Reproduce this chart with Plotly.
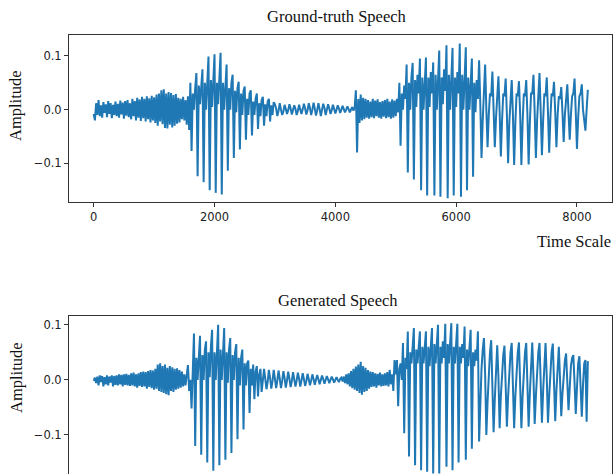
import plotly.graph_objects as go

# Digitised waveforms: one amplitude value every SAMPLE_STEP samples
SAMPLE_STEP = 20

gt_amp = [
    -0.008, -0.02, 0.012, -0.01, 0.018, -0.012, 0.008, -0.015, 0.014, -0.006,
    0.01, -0.014, 0.016, -0.008, 0.012, -0.016, 0.009, -0.01, 0.015, -0.012,
    0.011, -0.015, 0.017, -0.009, 0.013, -0.017, 0.016, -0.011, 0.018, -0.014,
    0.012, -0.018, 0.02, -0.012, 0.016, -0.02, 0.022, -0.015, 0.019, -0.021,
    0.024, -0.016, 0.02, -0.022, 0.025, -0.018, 0.021, -0.024, 0.026, -0.02,
    0.023, -0.025, 0.028, -0.03, 0.03, -0.022, 0.036, -0.027, 0.038, -0.034,
    0.03, -0.035, 0.033, -0.028, 0.031, -0.033, 0.027, -0.03, 0.029, -0.026,
    0.022, -0.024, 0.02, -0.018, 0.024, -0.02, 0.018, -0.028, 0.025, -0.038,
    0.05, -0.077, 0.03, 0.0, 0.04, 0.068, -0.124, 0.045, 0.01, 0.05,
    0.075, -0.135, 0.05, 0.0, 0.06, 0.099, -0.15, 0.055, 0.005, 0.06,
    0.103, -0.155, 0.05, 0.01, 0.065, 0.106, -0.158, 0.05, 0.0, 0.055,
    0.084, -0.114, 0.04, 0.0, 0.05, 0.065, -0.09, 0.035, -0.005, 0.04,
    0.052, -0.074, 0.03, -0.01, 0.035, 0.043, -0.056, 0.02, -0.01, 0.03,
    0.036, -0.048, 0.015, -0.01, 0.02, 0.03, -0.036, 0.012, -0.012, 0.018,
    0.024, -0.03, 0.01, -0.012, 0.015, 0.02, -0.022, 0.008, -0.01, 0.014,
    0.01, 0.002, -0.012, -0.002, 0.012, 0.0, -0.01, -0.003, 0.009, 0.001,
    -0.008, -0.001, 0.01, 0.002, -0.009, 0.0, 0.008, 0.001, -0.01, -0.002,
    0.009, 0.0, -0.008, 0.001, 0.011, 0.002, -0.009, -0.001, 0.012, 0.003,
    -0.01, 0.0, 0.013, 0.002, -0.011, -0.001, 0.012, 0.001, -0.012, 0.0,
    0.011, 0.003, -0.01, 0.0, 0.01, 0.002, -0.008, -0.001, 0.009, 0.001,
    -0.007, 0.0, 0.008, 0.002, -0.006, 0.0, 0.007, 0.001, -0.005, 0.0,
    0.006, 0.001, -0.005, 0.0, 0.005, -0.002, 0.004, 0.036, -0.08, 0.02,
    -0.025, 0.028, -0.02, 0.022, -0.018, 0.02, -0.015, 0.018, -0.017, 0.015,
    -0.014, 0.02, -0.016, 0.017, -0.012, 0.019, -0.015, 0.014, -0.017, 0.016,
    -0.013, 0.018, -0.016, 0.02, -0.014, 0.015, -0.017, 0.019, -0.015, 0.017,
    -0.012, 0.02, -0.005, 0.05, -0.067, 0.03, 0.0, 0.045, 0.02, 0.084,
    -0.117, 0.05, 0.0, 0.06, 0.087, -0.13, 0.055, 0.005, 0.065, 0.03,
    0.095, -0.15, 0.06, 0.0, 0.07, 0.097, -0.16, 0.06, 0.005, 0.07,
    0.03, 0.088, -0.16, 0.065, 0.0, 0.07, 0.11, -0.162, 0.06, 0.01,
    0.075, 0.035, 0.12, -0.165, 0.065, 0.0, 0.07, 0.115, -0.16, 0.06,
    0.005, 0.07, 0.03, 0.123, -0.162, 0.065, 0.0, 0.07, 0.116, -0.15,
    0.06, 0.0, 0.065, 0.095, -0.125, 0.05, -0.005, 0.055, 0.02, 0.092,
    0.01, -0.09, -0.02, 0.035, 0.084, 0.0, -0.07, -0.01, 0.03, 0.025,
    0.071, 0.0, -0.07, -0.015, 0.03, 0.062, -0.005, -0.087, -0.02, 0.03,
    0.025, 0.058, -0.01, -0.1, -0.025, 0.03, 0.055, -0.01, -0.103, -0.025,
    0.03, 0.025, 0.053, -0.01, -0.103, -0.025, 0.03, 0.025, 0.055, -0.01,
    -0.102, -0.025, 0.03, 0.03, 0.065, -0.005, -0.09, -0.02, 0.03, 0.068,
    -0.005, -0.085, -0.02, 0.03, 0.025, 0.06, -0.005, -0.08, -0.015, 0.03,
    0.025, 0.052, -0.005, -0.07, -0.01, 0.025, 0.02, 0.042, -0.005, -0.06,
    -0.01, 0.025, 0.047, -0.005, -0.056, -0.01, 0.025, 0.03, 0.058, -0.005,
    -0.073, -0.015, 0.025, 0.03, 0.047, 0.0, -0.02, -0.039, 0.0, 0.037,
]

gen_amp = [
    -0.002, 0.004, -0.006, 0.006, -0.01, 0.008, -0.004, 0.007, -0.012, 0.005,
    -0.008, 0.008, -0.01, 0.006, -0.005, 0.008, -0.012, 0.007, -0.009, 0.008,
    -0.01, 0.01, -0.008, 0.009, -0.012, 0.01, -0.009, 0.011, -0.01, 0.009,
    -0.011, 0.012, -0.01, 0.013, -0.012, 0.01, -0.014, 0.012, -0.011, 0.014,
    -0.013, 0.015, -0.012, 0.014, -0.016, 0.016, -0.013, 0.018, -0.015, 0.017,
    -0.018, 0.02, -0.016, 0.028, -0.02, 0.03, -0.022, 0.025, -0.024, 0.028,
    -0.026, 0.022, -0.028, 0.025, -0.02, 0.023, -0.022, 0.02, -0.018, 0.021,
    -0.016, 0.018, -0.014, 0.015, -0.012, 0.01, -0.01, 0.015, 0.027, -0.02,
    0.0, -0.052, 0.02, 0.084, -0.12, 0.04, 0.0, 0.05, 0.08, -0.136,
    0.045, 0.0, 0.055, 0.07, -0.15, 0.05, 0.005, 0.06, 0.091, -0.165,
    0.05, 0.0, 0.06, 0.1, -0.155, 0.055, 0.0, 0.06, 0.094, -0.145,
    0.05, -0.005, 0.055, 0.076, -0.133, 0.045, 0.0, 0.05, 0.065, -0.108,
    0.04, -0.01, 0.04, 0.055, -0.09, 0.03, -0.01, 0.03, 0.035, -0.06,
    0.02, -0.01, 0.028, -0.035, 0.015, 0.025, -0.03, 0.01, 0.02, -0.022,
    0.005, 0.02, 0.002, -0.017, -0.003, 0.018, 0.003, -0.016, -0.002, 0.018,
    0.002, -0.015, -0.001, 0.017, 0.002, -0.015, -0.002, 0.016, 0.003, -0.014,
    -0.001, 0.015, 0.002, -0.013, -0.002, 0.014, 0.001, -0.012, -0.001, 0.013,
    0.002, -0.012, -0.001, 0.012, 0.001, -0.011, -0.002, 0.011, 0.001, -0.01,
    -0.001, 0.01, 0.001, -0.009, 0.0, 0.009, 0.001, -0.008, 0.0, 0.008,
    0.001, -0.007, 0.0, 0.007, 0.001, -0.006, 0.0, 0.006, 0.001, -0.005,
    0.0, 0.005, 0.0, -0.004, 0.002, 0.004, -0.003, 0.006, -0.006, 0.01,
    -0.008, 0.012, -0.012, 0.016, -0.015, 0.02, -0.018, 0.024, -0.02, 0.028,
    -0.024, 0.033, -0.027, 0.025, -0.022, 0.022, -0.02, 0.018, -0.016, 0.015,
    -0.013, 0.014, -0.012, 0.012, -0.014, 0.011, -0.01, 0.013, -0.012, 0.01,
    -0.011, 0.012, -0.01, 0.014, -0.012, 0.018, -0.008, 0.01, -0.02, 0.036,
    0.01, 0.036, -0.048, 0.02, 0.03, 0.0, 0.067, -0.097, 0.04, 0.02,
    0.088, -0.139, 0.05, 0.03, 0.06, 0.094, -0.155, 0.055, 0.03, 0.065,
    0.088, -0.164, 0.06, 0.03, 0.07, 0.088, -0.167, 0.06, 0.025, 0.07,
    0.094, -0.17, 0.065, 0.03, 0.07, 0.1, -0.17, 0.06, 0.03, 0.07,
    0.04, 0.102, -0.158, 0.065, 0.03, 0.07, 0.103, -0.164, 0.06, 0.03,
    0.065, 0.102, -0.15, 0.06, 0.03, 0.065, 0.04, 0.097, -0.145, 0.055,
    0.025, 0.06, 0.091, -0.125, 0.05, 0.025, 0.055, 0.035, 0.088, -0.112,
    -0.04, 0.02, 0.055, 0.076, 0.01, -0.1, -0.04, 0.02, 0.05, 0.072,
    0.005, -0.095, -0.035, 0.025, 0.063, 0.005, -0.088, -0.03, 0.02, 0.045,
    0.062, 0.005, -0.085, -0.03, 0.02, 0.05, 0.067, 0.005, -0.088, -0.03,
    0.02, 0.05, 0.068, 0.005, -0.088, -0.03, 0.02, 0.05, 0.067, 0.005,
    -0.085, -0.025, 0.035, 0.068, 0.005, -0.08, -0.03, 0.02, 0.05, 0.067,
    0.005, -0.078, -0.02, 0.035, 0.067, 0.005, -0.078, -0.03, 0.02, 0.05,
    0.066, 0.005, -0.075, -0.02, 0.03, 0.06, 0.0, -0.066, -0.025, 0.015,
    0.035, 0.048, 0.0, -0.055, -0.015, 0.025, 0.04, 0.045, -0.005, -0.062,
    -0.015, 0.03, 0.043, -0.005, -0.067, -0.01, 0.03, 0.036, -0.076, 0.034,
]

x_tick_vals = [0, 2000, 4000, 6000, 8000]
y_tick_vals = [-0.1, 0.0, 0.1]
titles = ["Ground-truth Speech", "Generated Speech"]
y_label = "Amplitude"
x_label = "Time Scale"

gt_idx = [i * SAMPLE_STEP for i in range(len(gt_amp))]
gen_idx = [i * SAMPLE_STEP for i in range(len(gen_amp))]

W, H = 614, 474
def px(x):
    return x / W
def py(y):
    return 1 - y / H

LINE = "#1f77b4"
AX = "#333333"
TICKFONT = dict(family="DejaVu Sans", size=11.5, color="#222222")
SERIF = "Liberation Serif"

fig = go.Figure()
fig.add_trace(go.Scatter(x=gt_idx, y=gt_amp, mode="lines",
                         line=dict(color=LINE, width=2.0), xaxis="x", yaxis="y",
                         showlegend=False, hoverinfo="skip"))
fig.add_trace(go.Scatter(x=gen_idx, y=gen_amp, mode="lines",
                         line=dict(color=LINE, width=2.0), xaxis="x2", yaxis="y2",
                         showlegend=False, hoverinfo="skip"))

xdom = [px(69), px(612)]
xr = [-409, 8580]

fig.update_layout(
    width=W, height=H,
    margin=dict(l=0, r=0, t=0, b=0),
    paper_bgcolor="white", plot_bgcolor="white",
    xaxis=dict(domain=xdom, range=xr, anchor="y", tickvals=x_tick_vals,
               tickformat="d", ticks="outside", ticklen=4, tickcolor=AX,
               showline=True, linecolor=AX, linewidth=1, mirror=True,
               showgrid=False, zeroline=False, tickfont=TICKFONT),
    yaxis=dict(domain=[py(202), py(35)], range=[-0.172, 0.139], anchor="x",
               tickvals=y_tick_vals, tickformat=".1f", ticks="outside",
               ticklen=4, tickcolor=AX, showline=True, linecolor=AX,
               linewidth=1, mirror=True, showgrid=False, zeroline=False,
               tickfont=TICKFONT),
    xaxis2=dict(domain=xdom, range=xr, anchor="y2", side="top",
                showticklabels=False, ticks="", showline=True, linecolor=AX,
                linewidth=1, showgrid=False, zeroline=False),
    yaxis2=dict(domain=[0, py(316)], range=[-0.171, 0.116], anchor="x2",
                tickvals=y_tick_vals, tickformat=".1f", ticks="outside",
                ticklen=4, tickcolor=AX, showline=True, linecolor=AX,
                linewidth=1, mirror=True, showgrid=False, zeroline=False,
                tickfont=TICKFONT),
    annotations=[
        dict(text=titles[0], x=px(337), y=py(16), xref="paper", yref="paper",
             showarrow=False, xanchor="center", yanchor="middle",
             font=dict(family=SERIF, size=16.5, color="#111111")),
        dict(text=titles[1], x=px(338), y=py(300), xref="paper", yref="paper",
             showarrow=False, xanchor="center", yanchor="middle",
             font=dict(family=SERIF, size=16.5, color="#111111")),
        dict(text=y_label, x=px(16), y=py(106), xref="paper", yref="paper",
             showarrow=False, textangle=-90, xanchor="center", yanchor="middle",
             font=dict(family=SERIF, size=16.5, color="#111111")),
        dict(text=y_label, x=px(16), y=py(378), xref="paper", yref="paper",
             showarrow=False, textangle=-90, xanchor="center", yanchor="middle",
             font=dict(family=SERIF, size=16.5, color="#111111")),
        dict(text=x_label, x=px(613), y=py(241), xref="paper", yref="paper",
             showarrow=False, xanchor="right", yanchor="middle",
             font=dict(family=SERIF, size=16.5, color="#111111")),
    ],
)

fig.write_html("out.html")
